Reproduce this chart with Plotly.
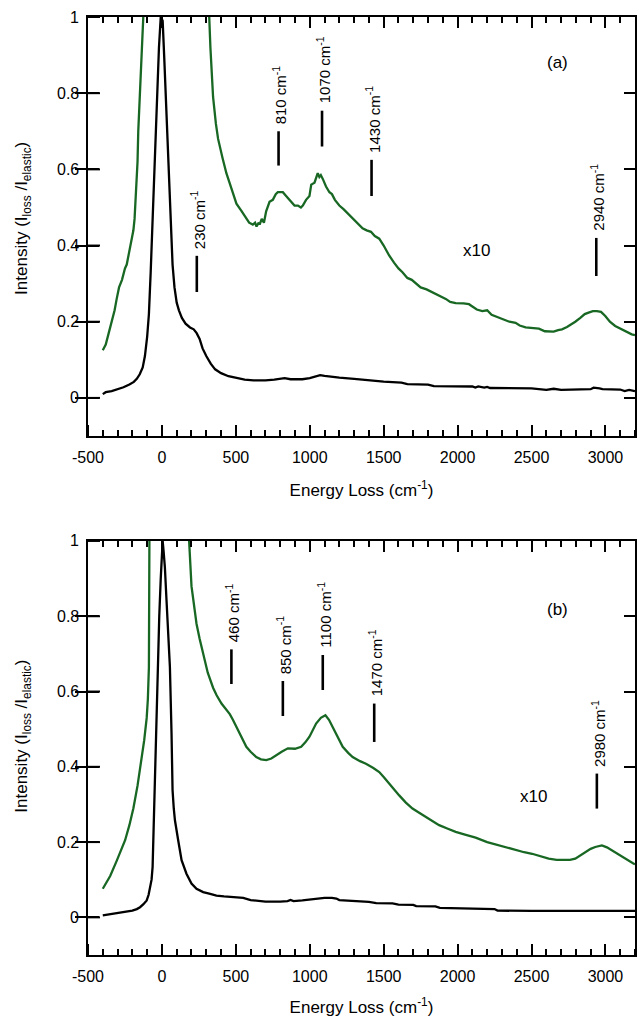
import plotly.graph_objects as go

# ---------------- data: panel (a) ----------------
a_black_x = [-400, -380, -340, -300, -260, -220, -190, -170, -150, -130, -115, -100, -88, -76, -66, -55, -43, -30, -20, -8,
             5, 15, 27, 38, 49, 60, 72, 85, 100, 115, 135, 160, 190, 215, 235, 255, 275, 300, 330, 360, 400, 450, 500,
             560, 620, 700, 760, 800, 830, 870, 950, 1000, 1040, 1070, 1100, 1150, 1200, 1300, 1400, 1500, 1620, 1660,
             1800, 1840, 2100, 2120, 2140, 2180, 2200, 2220, 2500, 2600, 2650, 2700, 2900, 2920, 2960, 2980, 3100,
             3130, 3160, 3200]
a_black_y = [0.010, 0.015, 0.018, 0.022, 0.028, 0.035, 0.042, 0.050, 0.062, 0.080, 0.11, 0.16, 0.22, 0.33, 0.44, 0.57, 0.70, 0.82, 0.92, 1.0,
             0.99, 0.90, 0.79, 0.68, 0.57, 0.46, 0.35, 0.29, 0.25, 0.23, 0.21, 0.195, 0.185, 0.18, 0.17, 0.155, 0.13, 0.11, 0.09, 0.075, 0.065, 0.057, 0.052,
             0.048, 0.046, 0.046, 0.048, 0.051, 0.052, 0.049, 0.049, 0.052, 0.056, 0.060, 0.058, 0.055, 0.053, 0.050, 0.046, 0.043, 0.040, 0.036,
             0.035, 0.031, 0.030, 0.027, 0.030, 0.027, 0.029, 0.026, 0.025, 0.021, 0.024, 0.021, 0.023, 0.027, 0.025, 0.023, 0.022,
             0.018, 0.021, 0.018]

a_green_x = [-400, -380, -360, -340, -320, -306, -290, -270, -250, -238, -220, -205, -193, -185, -177, -170, -165, -160, -150, -137, -126,
             -110, -80, -40, -8, 30, 80, 150, 250, 320, 328, 346, 365, 380, 410, 436, 470, 504, 540, 571, 590, 615, 630, 640, 655,
             661, 675, 690, 705, 728, 750, 770, 784, 800, 818, 840, 863, 880, 897, 920, 940, 953, 975, 998, 1010, 1032, 1054,
             1065, 1075, 1088, 1110, 1133, 1150, 1170, 1200, 1230, 1268, 1300, 1330, 1357, 1385, 1414, 1440, 1470, 1500, 1537,
             1570, 1600, 1627, 1660, 1690, 1717, 1750, 1790, 1830, 1870, 1900, 1920, 1950, 1987, 2040, 2077, 2100, 2130, 2167,
             2200, 2230, 2279, 2320, 2350, 2392, 2420, 2460, 2504, 2550, 2590, 2616, 2650, 2680, 2706, 2740, 2770, 2796, 2830,
             2860, 2886, 2915, 2942, 2970, 2999, 3030, 3066, 3100, 3140, 3178, 3200]
a_green_y = [0.125, 0.14, 0.17, 0.20, 0.23, 0.26, 0.29, 0.31, 0.34, 0.35, 0.39, 0.42, 0.44, 0.47, 0.52, 0.58, 0.62, 0.70, 0.78, 0.88, 1.0,
             1.4, 2.5, 7.0, 10.0, 8.0, 3.5, 2.0, 1.3, 1.0, 0.92, 0.79, 0.72, 0.68, 0.63, 0.59, 0.55, 0.51, 0.49, 0.47, 0.46, 0.455, 0.46, 0.45, 0.46,
             0.455, 0.47, 0.46, 0.49, 0.515, 0.52, 0.535, 0.54, 0.54, 0.54, 0.53, 0.52, 0.51, 0.505, 0.505, 0.50, 0.505, 0.52, 0.53, 0.56, 0.565, 0.59,
             0.58, 0.585, 0.575, 0.555, 0.54, 0.535, 0.52, 0.505, 0.495, 0.48, 0.465, 0.455, 0.445, 0.44, 0.436, 0.425, 0.418, 0.40, 0.374,
             0.355, 0.34, 0.33, 0.315, 0.31, 0.30, 0.29, 0.285, 0.277, 0.27, 0.265, 0.26, 0.252, 0.249, 0.248, 0.246, 0.24, 0.232, 0.228,
             0.23, 0.218, 0.21, 0.205, 0.20, 0.197, 0.19, 0.185, 0.184, 0.182, 0.175, 0.175, 0.174, 0.178, 0.18, 0.186, 0.193, 0.20, 0.21,
             0.22, 0.224, 0.228, 0.228, 0.226, 0.215, 0.20, 0.189, 0.182, 0.175, 0.167, 0.165]

a_peaks = ["230", "810", "1070", "1430", "2940"]
a_mark_x = [236, 789, 1083, 1418, 2938]
a_mark_lo = [0.278, 0.61, 0.66, 0.53, 0.32]
a_mark_hi = [0.373, 0.70, 0.754, 0.625, 0.42]

# ---------------- data: panel (b) ----------------
b_black_x = [-400, -350, -300, -250, -200, -170, -148, -125, -103, -90, -81, -70, -63, -54, -47, -36, -26, -18, -8, -2, 5, 12, 20,
             31, 42, 54, 65, 72, 80, 88, 110, 133, 166, 200, 234, 279, 320, 369, 420, 481, 550, 600, 650, 700, 800, 850, 870,
             890, 950, 1000, 1040, 1100, 1150, 1180, 1200, 1300, 1400, 1450, 1560, 1600, 1700, 1720, 1850, 1880, 2000, 2100,
             2250, 2270, 2500, 3200]
b_black_y = [0.005, 0.008, 0.011, 0.014, 0.018, 0.022, 0.027, 0.035, 0.045, 0.060, 0.076, 0.10, 0.134, 0.267, 0.40, 0.58, 0.70, 0.80, 0.90, 0.95, 1.0, 0.97, 0.93,
             0.843, 0.76, 0.666, 0.489, 0.338, 0.29, 0.258, 0.205, 0.152, 0.116, 0.09, 0.076, 0.067, 0.063, 0.058, 0.056, 0.054, 0.052, 0.046, 0.043, 0.042, 0.042, 0.043, 0.046,
             0.043, 0.045, 0.048, 0.050, 0.052, 0.052, 0.050, 0.046, 0.044, 0.041, 0.038, 0.037, 0.034, 0.033, 0.030, 0.029, 0.025, 0.024, 0.023,
             0.022, 0.018, 0.017, 0.017]

b_green_x = [-400, -350, -306, -280, -249, -220, -193, -165, -137, -120, -103, -95, -88, -84, -81, -74, -60, -40, -20, 5, 30, 60, 100,
             150, 184, 200, 215, 234, 255, 279, 310, 346, 370, 403, 430, 459, 480, 504, 530, 571, 600, 638, 670, 706, 740, 773,
             810, 852, 880, 900, 942, 970, 998, 1020, 1043, 1075, 1106, 1130, 1155, 1190, 1223, 1260, 1290, 1340, 1380, 1430,
             1470, 1500, 1537, 1570, 1605, 1650, 1695, 1740, 1785, 1830, 1875, 1930, 1987, 2050, 2122, 2200, 2279, 2340, 2392,
             2450, 2504, 2560, 2616, 2670, 2729, 2760, 2796, 2830, 2864, 2900, 2931, 2976, 3010, 3043, 3080, 3110, 3150, 3189, 3200]
b_green_y = [0.076, 0.11, 0.15, 0.175, 0.205, 0.245, 0.29, 0.35, 0.42, 0.47, 0.53, 0.58, 0.665, 0.75, 0.84, 1.0, 1.5, 3.0, 6.0, 10.0, 8.4, 5.0, 2.5,
             1.4, 1.0, 0.88, 0.83, 0.78, 0.74, 0.70, 0.65, 0.61, 0.59, 0.568, 0.555, 0.54, 0.525, 0.506, 0.485, 0.453, 0.44, 0.426, 0.42, 0.418, 0.422, 0.431,
             0.44, 0.449, 0.449, 0.448, 0.453, 0.465, 0.48, 0.497, 0.515, 0.53, 0.537, 0.525, 0.506, 0.48, 0.453, 0.437, 0.426, 0.415, 0.408, 0.397,
             0.386, 0.373, 0.355, 0.34, 0.324, 0.305, 0.289, 0.278, 0.267, 0.256, 0.245, 0.236, 0.227, 0.22, 0.212, 0.20, 0.191, 0.184, 0.178,
             0.173, 0.169, 0.163, 0.156, 0.153, 0.152, 0.153, 0.156, 0.165, 0.174, 0.182, 0.187, 0.191, 0.186, 0.178, 0.168, 0.16, 0.152, 0.143, 0.141]

b_peaks = ["460", "850", "1100", "1470", "2980"]
b_mark_x = [470, 818, 1088, 1436, 2942]
b_mark_lo = [0.62, 0.535, 0.604, 0.466, 0.289]
b_mark_hi = [0.712, 0.628, 0.697, 0.568, 0.382]

y_tickvals = [0, 0.2, 0.4, 0.6, 0.8, 1]
y_ticktext = ["0", "0.2", "0.4", "0.6", "0.8", "1"]
x_tickvals = [-500, 0, 500, 1000, 1500, 2000, 2500, 3000]
x_ticktext = ["-500", "0", "500", "1000", "1500", "2000", "2500", "3000"]

GREEN = "rgb(24,104,36)"
FONT = "Liberation Sans, Arial, sans-serif"
X_RANGE = [-500, 3200]
Y_RANGE = [-0.1, 1]
DOM_A = [0.5533, 1.0]
DOM_B = [0.0, 0.4414]
W, H = 637, 1017
MARGIN = dict(l=88, r=2, t=17, b=62)
TICKLEN = 11

fig = go.Figure()


def seg(xs, lo, hi):
    X, Y = [], []
    for x, l, h in zip(xs, lo, hi):
        X += [x, x, None]
        Y += [l, h, None]
    return X, Y


# length of an inner y tick converted to x data units
plot_w = W - MARGIN["l"] - MARGIN["r"]
tick_dx = (TICKLEN + 1) * (X_RANGE[1] - X_RANGE[0]) / plot_w
lt_x, lt_y = seg(y_tickvals, [X_RANGE[0]] * len(y_tickvals), [X_RANGE[0] + tick_dx] * len(y_tickvals))
# seg gives vertical pairs; swap so the ticks are horizontal
left_tick_x, left_tick_y = lt_y, lt_x

for xa, ya, gx, gy, bx, by, mx, mlo, mhi in [
        ("x", "y", a_green_x, a_green_y, a_black_x, a_black_y, a_mark_x, a_mark_lo, a_mark_hi),
        ("x2", "y2", b_green_x, b_green_y, b_black_x, b_black_y, b_mark_x, b_mark_lo, b_mark_hi)]:
    fig.add_trace(go.Scatter(x=gx, y=gy, mode="lines", line=dict(color=GREEN, width=2.3),
                             xaxis=xa, yaxis=ya, showlegend=False, hoverinfo="skip"))
    fig.add_trace(go.Scatter(x=bx, y=by, mode="lines", line=dict(color="black", width=2.3),
                             xaxis=xa, yaxis=ya, showlegend=False, hoverinfo="skip"))
    sx, sy = seg(mx, mlo, mhi)
    fig.add_trace(go.Scatter(x=sx, y=sy, mode="lines", line=dict(color="black", width=2.6),
                             xaxis=xa, yaxis=ya, showlegend=False, hoverinfo="skip"))
    # inner ticks on the left edge
    fig.add_trace(go.Scatter(x=left_tick_x, y=left_tick_y, mode="lines", line=dict(color="black", width=2),
                             xaxis=xa, yaxis=ya, showlegend=False, hoverinfo="skip"))

# empty traces so the helper tick axes (inner ticks on bottom edges) exist
for xa, ya in [("x3", "y"), ("x4", "y2")]:
    fig.add_trace(go.Scatter(x=[], y=[], mode="lines", xaxis=xa, yaxis=ya,
                             showlegend=False, hoverinfo="skip"))

annotations = []
for xa, ya, peaks, mx, mhi in [("x", "y", a_peaks, a_mark_x, a_mark_hi),
                               ("x2", "y2", b_peaks, b_mark_x, b_mark_hi)]:
    for p, x, h in zip(peaks, mx, mhi):
        annotations.append(dict(x=x, y=h, xref=xa, yref=ya, text=p + " cm<sup>-1</sup>",
                                textangle=-90, showarrow=False, xanchor="center", yanchor="bottom",
                                yshift=5, xshift=1, font=dict(size=15, color="black", family=FONT)))

# y tick labels and y titles
for ya, ytc in [("y", 0.47), ("y2", 0.48)]:
    for v, t in zip(y_tickvals, y_ticktext):
        annotations.append(dict(x=0, y=v, xref="paper", yref=ya, text=t, showarrow=False,
                                xanchor="right", yanchor="middle", xshift=-7,
                                font=dict(size=16, color="black", family=FONT)))
    annotations.append(dict(x=0, y=ytc, xref="paper", yref=ya,
                            text="Intensity (I<sub>loss</sub> /I<sub>elastic</sub>)",
                            textangle=-90, showarrow=False, xanchor="center", yanchor="middle",
                            xshift=-65, font=dict(size=17, color="black", family=FONT)))

annotations += [
    dict(x=2131, y=0.386, xref="x", yref="y", text="x10", showarrow=False,
         font=dict(size=17, color="black", family=FONT)),
    dict(x=2677, y=0.88, xref="x", yref="y", text="(a)", showarrow=False,
         font=dict(size=17, color="black", family=FONT)),
    dict(x=2511, y=0.322, xref="x2", yref="y2", text="x10", showarrow=False,
         font=dict(size=17, color="black", family=FONT)),
    dict(x=2677, y=0.819, xref="x2", yref="y2", text="(b)", showarrow=False,
         font=dict(size=17, color="black", family=FONT)),
]

xtitle = dict(text="Energy Loss (cm<sup>-1</sup>)", font=dict(size=17, color="black", family=FONT), standoff=19)

base = dict(showline=True, linewidth=2, linecolor="black", mirror="allticks",
            ticks="inside", ticklen=TICKLEN, tickwidth=2, tickcolor="black",
            showgrid=False, zeroline=False, automargin=False,
            tickfont=dict(size=16, color="black", family=FONT))
minor_in = dict(ticks="inside", dtick=100, ticklen=6, tickwidth=2, tickcolor="black")
minor_out = dict(ticks="outside", dtick=100, ticklen=6, tickwidth=2, tickcolor="black")

xmain = dict(base, range=X_RANGE, tickmode="array", tickvals=x_tickvals, ticktext=x_ticktext,
             minor=minor_in, ticklabelstandoff=6, title=xtitle)
ymain = dict(base, range=Y_RANGE, tickmode="array", tickvals=y_tickvals, showticklabels=False)

# helper axes: outside ticks from the opposite side = inner ticks on bottom edges
xghost = dict(showline=False, showgrid=False, zeroline=False, showticklabels=False, automargin=False,
              ticks="outside", ticklen=TICKLEN, tickwidth=2, tickcolor="black", tickmode="array",
              range=X_RANGE, tickvals=x_tickvals, minor=minor_out, side="top", anchor="free")

fig.update_layout(
    width=W, height=H,
    margin=MARGIN,
    paper_bgcolor="white", plot_bgcolor="white",
    font=dict(family=FONT, color="black"),
    xaxis=dict(xmain, anchor="y"),
    yaxis=dict(ymain, domain=DOM_A, anchor="x"),
    xaxis2=dict(xmain, anchor="y2"),
    yaxis2=dict(ymain, domain=DOM_B, anchor="x2"),
    xaxis3=dict(xghost, overlaying="x", position=DOM_A[0]),
    xaxis4=dict(xghost, overlaying="x2", position=DOM_B[0]),
    annotations=annotations,
)

fig.write_html("out.html", post_script="document.body.style.margin='0';",
               config={"displayModeBar": False})
